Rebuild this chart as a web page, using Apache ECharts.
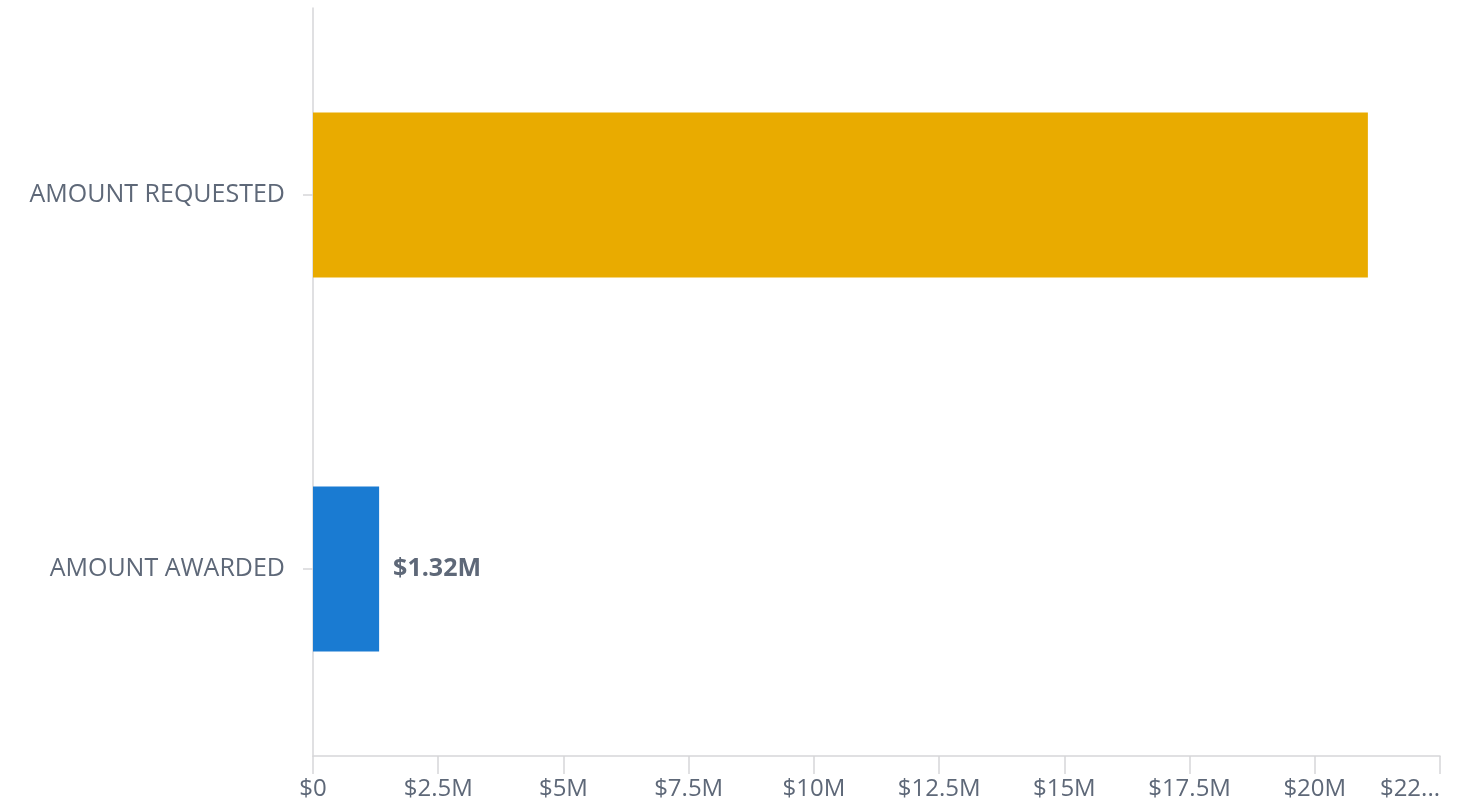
<!DOCTYPE html>
<html>
<head>
<meta charset="utf-8">
<title>Amount requested vs awarded</title>
<script src="https://cdn.jsdelivr.net/npm/echarts@6/dist/echarts.min.js"></script>
<style>
  html, body { margin: 0; padding: 0; background: #fff; }
  #chart { width: 1478px; height: 804px; }
</style>
</head>
<body>
<div id="chart"></div>
<script>
// Categories, bottom to top (category axis on y starts from the bottom)
const categories = ['AMOUNT AWARDED', 'AMOUNT REQUESTED'];
const amounts = [1320000, 21060000];
const barColors = ['#1A7BD2', '#E9AB00'];
const showValueLabel = [true, false];

// x axis ticks
const axisMax = 22500000;
const axisStep = 2500000;

const textColor = '#5E6878';
const lineColor = '#D6D6D9';

function money(v) {
    if (v === 0) return '$0';
    if (v >= 1000000) {
        return '$' + (Math.round(v / 10000) / 100) + 'M';
    }
    return '$' + v;
}

const chart = echarts.init(document.getElementById('chart'));

chart.setOption({
    animation: false,
    textStyle: { fontFamily: 'Open Sans' },
    grid: {
        left: 313,
        right: 38,
        top: 8,
        bottom: 48,
        containLabel: false
    },
    xAxis: {
        type: 'value',
        min: 0,
        max: axisMax,
        interval: axisStep,
        axisLine: { show: true, lineStyle: { color: lineColor, width: 1.5 } },
        axisTick: { show: true, length: 18, lineStyle: { color: lineColor, width: 1.5 } },
        splitLine: { show: false },
        axisLabel: {
            color: textColor,
            fontSize: 24,
            margin: 21,
            alignMaxLabel: 'right',
            formatter: function (v) {
                // the last label is cut off in the original
                if (v === axisMax) return '$22...';
                return money(v);
            }
        }
    },
    yAxis: {
        type: 'category',
        data: categories,
        axisLine: { show: true, lineStyle: { color: lineColor, width: 1.5 } },
        axisTick: { show: true, length: 10, alignWithLabel: true, lineStyle: { color: lineColor, width: 1.5 } },
        axisLabel: {
            color: textColor,
            fontSize: 25,
            margin: 28
        }
    },
    series: [{
        type: 'bar',
        barWidth: 165,
        data: amounts.map((v, i) => ({
            value: v,
            itemStyle: { color: barColors[i] },
            label: {
                show: showValueLabel[i],
                position: 'right',
                distance: 14,
                formatter: p => money(p.value),
                color: textColor,
                fontSize: 25,
                fontWeight: 'bold'
            }
        }))
    }]
});

window.addEventListener('resize', function () {
    chart.resize();
});
</script>
</body>
</html>
